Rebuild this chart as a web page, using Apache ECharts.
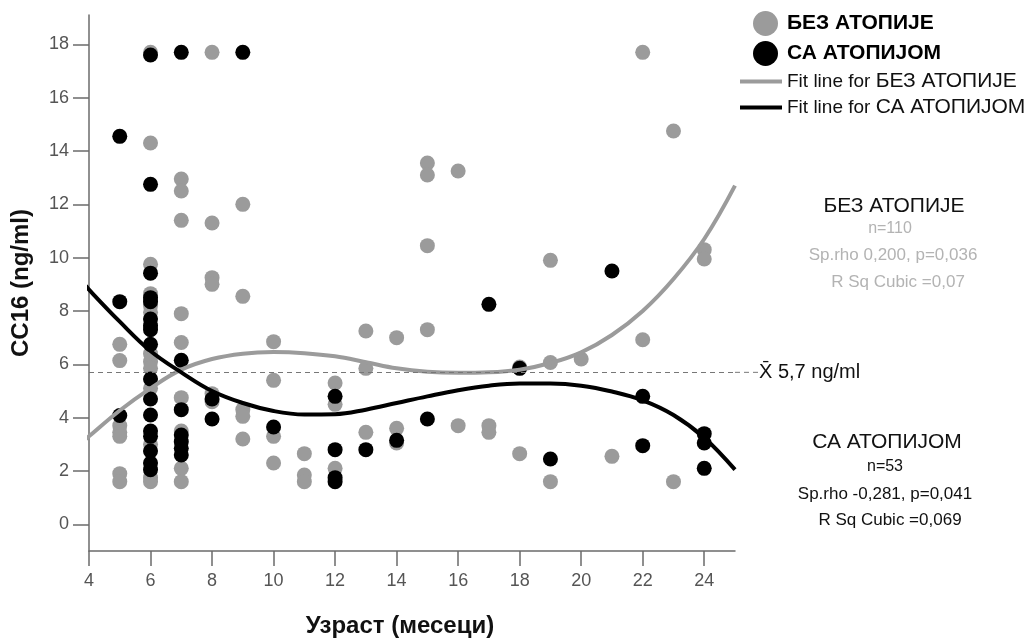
<!DOCTYPE html>
<html>
<head>
<meta charset="utf-8">
<script src="https://cdn.jsdelivr.net/npm/echarts@6/dist/echarts.min.js"></script>
<style>html,body{margin:0;padding:0;background:#fff;}#c{width:1029px;height:643px;}</style>
</head>
<body>
<div id="c"></div>
<script>
// ---- data ----
const xTicks = [4, 6, 8, 10, 12, 14, 16, 18, 20, 22, 24];
const yTicks = [0, 2, 4, 6, 8, 10, 12, 14, 16, 18];

const nameNo = 'БЕЗ АТОПИЈЕ';
const nameYes = 'СА АТОПИЈОМ';
const fitNameNo = 'Fit line for БЕЗ АТОПИЈЕ';
const fitNameYes = 'Fit line for СА АТОПИЈОМ';

// [age in months, CC16 ng/ml]
const noAtopyPoints = [
  [5,6.75],[5,6.14],[5,3.7],[5,3.45],[5,3.3],[5,1.9],[5,1.6],
  [6,17.7],[6,14.3],[6,9.75],[6,8.65],[6,8.2],[6,7.95],[6,6.4],[6,6.1],[6,5.85],[6,5.1],[6,3.0],[6,1.75],[6,1.6],
  [7,12.95],[7,12.5],[7,11.4],[7,7.9],[7,6.82],[7,4.75],[7,3.5],[7,2.1],[7,1.6],
  [8,17.7],[8,11.3],[8,9.25],[8,9.0],[8,4.9],[8,4.6],
  [9,12.0],[9,8.55],[9,4.3],[9,4.05],[9,3.2],
  [10,6.85],[10,5.4],[10,3.3],[10,2.3],
  [11,2.65],[11,1.85],[11,1.6],
  [12,5.3],[12,4.5],[12,2.1],
  [13,7.25],[13,5.85],[13,3.45],
  [14,7.0],[14,3.6],[14,3.05],
  [15,13.55],[15,13.1],[15,10.45],[15,7.3],
  [16,13.25],[16,3.7],
  [17,3.7],[17,3.45],
  [18,5.9],[18,2.65],
  [19,9.9],[19,6.07],[19,1.6],
  [20,6.2],
  [21,2.55],
  [22,17.7],[22,6.92],
  [23,14.75],[23,1.6],
  [24,10.3],[24,9.95]
];
const atopyPoints = [
  [5,14.55],[5,8.35],[5,4.08],
  [6,17.6],[6,12.75],[6,9.42],[6,8.5],[6,8.35],[6,7.7],[6,7.45],[6,7.3],[6,6.75],[6,5.45],[6,4.7],[6,4.1],[6,3.5],[6,3.3],[6,2.75],[6,2.3],[6,2.05],
  [7,17.7],[7,6.15],[7,4.3],[7,3.35],[7,3.1],[7,2.85],[7,2.6],
  [8,4.7],[8,3.95],
  [9,17.7],
  [10,3.65],
  [12,4.8],[12,2.8],[12,1.75],[12,1.6],
  [13,2.8],
  [14,3.15],
  [15,3.95],
  [17,8.25],
  [18,5.85],
  [19,2.45],
  [21,9.5],
  [22,4.8],[22,2.95],
  [24,3.4],[24,3.05],[24,2.1]
];

// fit lines
const fitX = [3.9,4,5,6,7,8,9,10,11,12,13,14,15,16,17,18,19,20,21,22,23,24,25];
const fitNoAtopy = [3.2,3.3,4.27,5.1,5.8,6.2,6.4,6.46,6.42,6.3,6.08,5.85,5.72,5.68,5.7,5.8,6.05,6.45,7.1,8.0,9.2,10.7,12.7];
const fitAtopy = [8.95,8.8,7.6,6.5,5.7,5.0,4.55,4.25,4.12,4.13,4.3,4.55,4.8,5.03,5.2,5.28,5.28,5.2,4.98,4.65,4.1,3.25,2.05];

const meanValue = 5.7;
const meanLabel = 'X\u0304 5,7 ng/ml';

const statsNo = ['БЕЗ АТОПИЈЕ', 'n=110', 'Sp.rho 0,200, p=0,036', 'R Sq Cubic =0,07'];
const statsYes = ['СА АТОПИЈОМ', 'n=53', 'Sp.rho -0,281, p=0,041', 'R Sq Cubic =0,069'];

// ---- chart ----
const FONT = "'Liberation Sans', Arial, sans-serif";
const GRAY = '#9b9b9b';
const AXIS = '#6b6b6b';
const zip = (xs, ys) => xs.map((x, i) => [x, ys[i]]);

function statText(text, cx, cy, size, color) {
  return {type: 'text', x: cx, y: cy, style: {text: text, font: size + 'px ' + FONT, fill: color,
    align: 'center', verticalAlign: 'middle'}};
}

const chart = echarts.init(document.getElementById('c'), null, {renderer: 'canvas'});
chart.setOption({
  animation: false,
  backgroundColor: '#fff',
  textStyle: {fontFamily: FONT},
  grid: {left: 89, right: 294, top: 15, bottom: 92, containLabel: false},
  xAxis: {
    type: 'value', min: 4, max: 25,
    name: 'Узраст (месеци)', nameLocation: 'middle', nameGap: 63,
    nameTextStyle: {fontFamily: FONT, fontSize: 24, fontWeight: 'bold', color: '#111', padding: [0, 24, 0, 0]},
    axisLine: {onZero: false, lineStyle: {color: AXIS, width: 1.5}},
    axisTick: {show: true, length: 15, customValues: xTicks, lineStyle: {color: AXIS, width: 1.5}},
    axisLabel: {customValues: xTicks, fontSize: 18, color: '#555', margin: 21, fontFamily: FONT},
    splitLine: {show: false}
  },
  yAxis: {
    type: 'value', min: -1.0, max: 19.1,
    name: 'CC16 (ng/ml)', nameLocation: 'middle', nameGap: 56, nameRotate: 90,
    nameTextStyle: {fontFamily: FONT, fontSize: 24, fontWeight: 'bold', color: '#111'},
    axisLine: {show: true, onZero: false, lineStyle: {color: AXIS, width: 1.5}},
    axisTick: {show: true, length: 16, customValues: yTicks, lineStyle: {color: AXIS, width: 1.5}},
    axisLabel: {customValues: yTicks, fontSize: 18, color: '#555', margin: 20, fontFamily: FONT},
    splitLine: {show: false}
  },
  legend: [
    {
      data: [nameNo, nameYes], icon: 'circle', orient: 'vertical',
      left: 748, top: 6, itemWidth: 25, itemHeight: 25, itemGap: 5,
      textStyle: {fontFamily: FONT, fontSize: 21, fontWeight: 'bold', color: '#000', padding: [0, 0, 0, 4]}
    },
    {
      data: [fitNameNo, fitNameYes], icon: 'rect', orient: 'vertical',
      left: 735, top: 66, itemWidth: 42, itemHeight: 4, itemGap: 5,
      formatter: function (n) { return '{a|Fit line for }{b|' + n.replace('Fit line for ', '') + '}'; },
      textStyle: {fontFamily: FONT, color: '#111', rich: {
        a: {fontFamily: FONT, fontSize: 19, color: '#111'},
        b: {fontFamily: FONT, fontSize: 21, color: '#111'}
      }}
    }
  ],
  series: [
    {
      name: nameNo, type: 'scatter', data: noAtopyPoints,
      symbolSize: 15, itemStyle: {color: GRAY, opacity: 1}, z: 2,
      markLine: {
        silent: true, symbol: 'none',
        lineStyle: {color: '#777', type: [5, 4], width: 1},
        label: {show: true, position: 'end', distance: 24, formatter: meanLabel,
                fontFamily: FONT, fontSize: 20, color: '#111'},
        data: [{yAxis: meanValue}]
      }
    },
    {
      name: nameYes, type: 'scatter', data: atopyPoints,
      symbolSize: 15, itemStyle: {color: '#000', opacity: 1}, z: 3
    },
    {
      name: fitNameNo, type: 'line', data: zip(fitX, fitNoAtopy), smooth: 0.4,
      showSymbol: false, symbol: 'none', lineStyle: {color: GRAY, width: 4},
      itemStyle: {color: GRAY}, z: 4
    },
    {
      name: fitNameYes, type: 'line', data: zip(fitX, fitAtopy), smooth: 0.4,
      showSymbol: false, symbol: 'none', lineStyle: {color: '#000', width: 4},
      itemStyle: {color: '#000'}, z: 5
    }
  ],
  graphic: [
    statText(statsNo[0], 894, 206, 21, '#111'),
    statText(statsNo[1], 890, 229, 16, '#b3b3b3'),
    statText(statsNo[2], 893, 255, 17, '#b3b3b3'),
    statText(statsNo[3], 898, 282, 17, '#b3b3b3'),
    statText(statsYes[0], 887, 442, 21, '#111'),
    statText(statsYes[1], 885, 467, 16, '#111'),
    statText(statsYes[2], 885, 494, 17, '#111'),
    statText(statsYes[3], 890, 520, 17, '#111')
  ]
});

// extend the dashed mean line a little past the plot edge, toward its label
const meanEnd = chart.convertToPixel({gridIndex: 0}, [25, meanValue]);
chart.setOption({
  graphic: [{
    id: 'meanExt', type: 'line', silent: true,
    shape: {x1: meanEnd[0], y1: meanEnd[1], x2: meanEnd[0] + 26, y2: meanEnd[1]},
    style: {stroke: '#777', lineWidth: 1, lineDash: [5, 4]}
  }]
});
</script>
</body>
</html>
